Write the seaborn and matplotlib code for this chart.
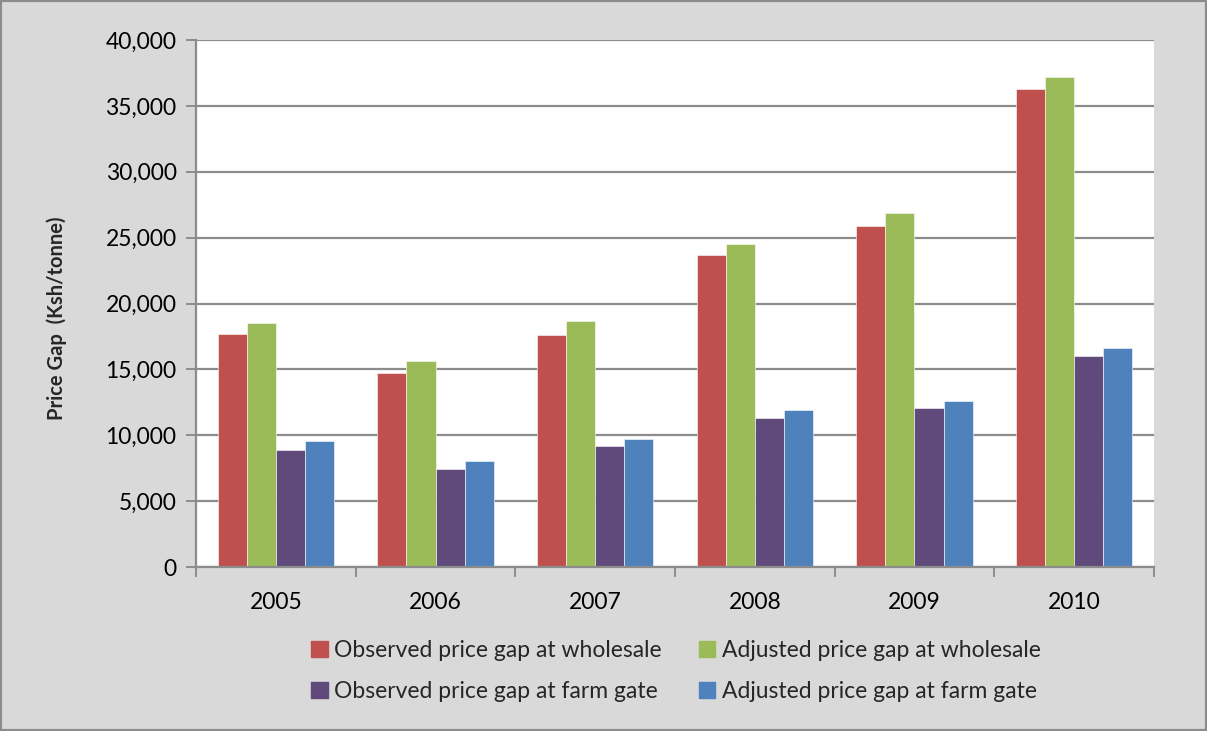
import matplotlib
matplotlib.use("Agg")
import matplotlib.pyplot as plt
import matplotlib.patches as mpatches
from matplotlib.ticker import FuncFormatter, FixedLocator
import numpy as np
import pandas as pd
import seaborn as sns

years = ["2005", "2006", "2007", "2008", "2009", "2010"]
observed_wholesale = [17650, 14750, 17600, 23650, 25900, 36300]
adjusted_wholesale = [18500, 15600, 18650, 24500, 26900, 37200]
observed_farm_gate = [8900, 7450, 9200, 11300, 12050, 16000]
adjusted_farm_gate = [9600, 8050, 9750, 11900, 12600, 16600]

series_names = [
    "Observed price gap at wholesale",
    "Adjusted price gap at wholesale",
    "Observed price gap at farm gate",
    "Adjusted price gap at farm gate",
]
series_colors = ["#C0504D", "#9BBB59", "#604A7B", "#4F81BD"]

df = pd.DataFrame({
    "Year": years * 4,
    "Series": np.repeat(series_names, len(years)),
    "Value": observed_wholesale + adjusted_wholesale + observed_farm_gate + adjusted_farm_gate,
})

sns.set_theme(style="white")
plt.rcParams["font.family"] = ["Lato", "DejaVu Sans"]

bg = "#D9D9D9"
grid_c = "#8C8C8C"

fig = plt.figure(figsize=(12.07, 7.31), dpi=100, facecolor=bg)
ax = fig.add_axes([196 / 1207, 1 - 567 / 731, (1154 - 196) / 1207, (567 - 40) / 731])
ax.set_facecolor("white")

sns.barplot(data=df, x="Year", y="Value", hue="Series", hue_order=series_names,
            palette=series_colors, width=0.73, dodge=True, saturation=1,
            edgecolor="white", linewidth=0.4, ax=ax, legend=False, errorbar=None)

ax.set_ylim(0, 40000)
ax.set_xlim(-0.5, len(years) - 0.5)
ax.set_yticks(np.arange(0, 40001, 5000))
ax.yaxis.set_major_formatter(FuncFormatter(lambda v, p: f"{int(v):,}"))
ax.yaxis.grid(True, color=grid_c, linewidth=1.6)
ax.set_axisbelow(True)

for s in ["top", "right"]:
    ax.spines[s].set_visible(False)
for s in ["left", "bottom"]:
    ax.spines[s].set_color(grid_c)
    ax.spines[s].set_linewidth(1.6)

ax.tick_params(axis="y", which="major", direction="out", length=7, width=1.4,
               color=grid_c, labelsize=16.5, pad=7, labelcolor="black", left=True)
ax.tick_params(axis="x", which="major", length=0, labelsize=16.5, pad=18, labelcolor="black")
ax.xaxis.set_minor_locator(FixedLocator(np.arange(-0.5, len(years), 1.0)))
ax.tick_params(axis="x", which="minor", direction="out", length=7, width=1.4,
               color=grid_c, bottom=True)

ax.set_xlabel("")
ax.set_ylabel("Price Gap  (Ksh/tonne)", fontsize=14.5, fontweight="bold")
ax.yaxis.set_label_coords((67 - 196) / 958, (567 - 318) / 527)

handles = [mpatches.Patch(color=c) for c in series_colors]
order = [0, 2, 1, 3]
leg = fig.legend([handles[i] for i in order], [series_names[i] for i in order],
                 ncol=2, loc="center", bbox_to_anchor=(676 / 1207, 1 - 671 / 731),
                 frameon=False, fontsize=16.5, handlelength=0.7, handleheight=0.7,
                 handletextpad=0.3, columnspacing=1.6, labelspacing=0.9)

fig.patches.append(mpatches.Rectangle((0, 0), 1, 1, transform=fig.transFigure,
                                      fill=False, edgecolor="#8C8C8C", linewidth=3))

fig.savefig("out.png", dpi=100, facecolor=bg)
